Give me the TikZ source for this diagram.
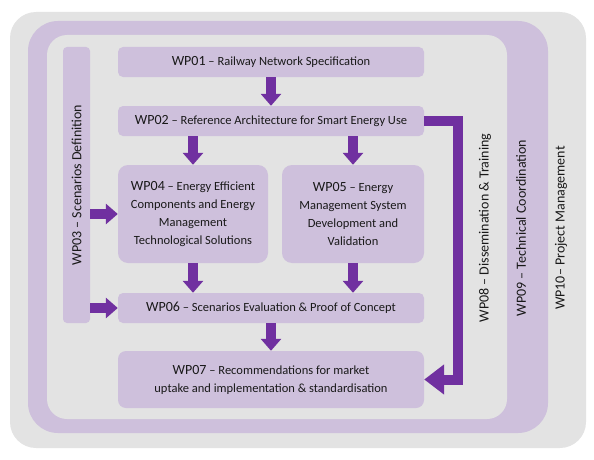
\documentclass[tikz,border=0pt]{standalone}
\usepackage{fontspec}
\setmainfont{Carlito}
\usetikzlibrary{arrows.meta}

\definecolor{wpgrey}{HTML}{E3E3E3}
\definecolor{wplilac}{HTML}{CEC0DC}
\definecolor{wppurple}{HTML}{7030A0}

\newcommand{\wpno}[1]{{\fontsize{14}{17}\selectfont WP#1}}

\begin{document}
\begin{tikzpicture}[
    x=1pt, y=-1pt,
    wpbox/.style={rectangle, rounded corners=5pt, fill=wplilac, inner sep=0pt,
        align=center, text=black!90, font=\fontsize{12.5}{18}\selectfont},
    wpbig/.style={wpbox, rounded corners=10pt, minimum height=98pt},
    wpwide/.style={wpbox, minimum width=306pt, minimum height=30pt},
    wpside/.style={rotate=90, text=black!90, font=\fontsize{14}{17}\selectfont},
    blockarrow/.style={-{Triangle[length=12pt, width=20pt]}, line width=10pt, draw=wppurple},
    longarrow/.style={-{Triangle[length=20pt, width=29pt]}, line width=10pt, draw=wppurple},
]
\useasboundingbox (0,0) rectangle (594,460);

% Cornici
\fill[wpgrey, rounded corners=26pt] (10,12) rectangle (586,448);
\fill[wplilac, rounded corners=30pt] (28,21) rectangle (548,433);
\fill[wpgrey, rounded corners=20pt] (47,35) rectangle (507,419);

% Work packages
\node[wpwide] (wp01) at (271,62) {\wpno{01} – Railway Network Specification};
\node[wpwide] (wp02) at (271,121) {\wpno{02} – Reference Architecture for Smart Energy Use};
\node[wpbig, minimum width=150pt] (wp04) at (193,214)
    {\wpno{04} – Energy Efficient\\Components and Energy\\Management\\Technological Solutions};
\node[wpbig, minimum width=142pt] (wp05) at (353,214)
    {\wpno{05} – Energy\\Management System\\Development and\\Validation};
\node[wpwide] (wp06) at (271,308) {\wpno{06} – Scenarios Evaluation \& Proof of Concept};
\node[wpwide, rounded corners=8pt, minimum height=57pt] (wp07) at (271,379.5)
    {\wpno{07} – Recommendations for market\\uptake and implementation \& standardisation};

\node[wpbox, rounded corners=4pt, minimum width=27pt, minimum height=276pt] (wp03) at (76.5,185)
    {\rotatebox{90}{\fontsize{14}{17}\selectfont WP03 – Scenarios Definition}};

% Etichette verticali
\node[wpside] (wp08) at (485,228) {WP08 – Dissemination \& Training};
\node[wpside] (wp09) at (521,228) {WP09 – Technical Coordination};
\node[wpside] (wp10) at (561,228) {WP10– Project Management};

% Frecce
\draw[blockarrow] (wp01) -- (wp02);
\draw[blockarrow] (wp02.south -| wp04) -- (wp04);
\draw[blockarrow] (wp02.south -| wp05) -- (wp05);
\draw[blockarrow] (wp04) -- (wp04 |- wp06.north);
\draw[blockarrow] (wp05) -- (wp05 |- wp06.north);
\draw[blockarrow] (wp06) -- (wp07);
\draw[blockarrow] (wp03.east |- wp04) -- (wp04);
\draw[blockarrow] (wp03.east |- wp06) -- (wp06);
\draw[longarrow] (wp02.east) -- ++(34,0) |- (wp07.east);

\end{tikzpicture}
\end{document}
